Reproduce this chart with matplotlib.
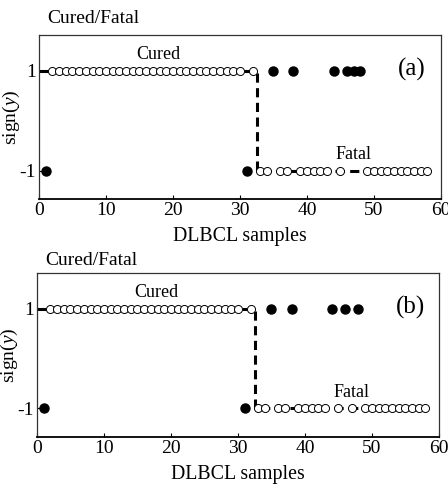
import numpy as np
import matplotlib
matplotlib.use('Agg')
import matplotlib.pyplot as plt

plt.rcParams['font.family'] = ['Liberation Serif', 'DejaVu Serif']
plt.rcParams['mathtext.fontset'] = 'custom'
plt.rcParams['mathtext.it'] = 'Liberation Serif:italic'
plt.rcParams['mathtext.rm'] = 'Liberation Serif'

# DLBCL samples 1..58: 32 cured (+1), 26 fatal (-1)
samples = np.arange(1, 59)
true_label = np.array([1] * 32 + [-1] * 26)

# misclassified samples for each panel
wrong_a = [1, 31, 35, 38, 44, 46, 47, 48]
wrong_b = [1, 31, 35, 38, 44, 46, 48]

panels = ['(a)', '(b)']
wrong_sets = [wrong_a, wrong_b]

x_ticks = [0, 10, 20, 30, 40, 50, 60]
y_ticks = [-1, 1]
y_ticklabels = ['-1', '1']

# axes positions [left, bottom, width, height] in figure fraction
positions = [[0.087, 0.5955, 0.897, 0.3333],
             [0.0826, 0.1118, 0.897, 0.3333]]
title_y = [0.963, 0.47]

fig = plt.figure(figsize=(4.48, 4.92), dpi=100)

for k in range(2):
    ax = fig.add_axes(positions[k])
    wrong = np.isin(samples, wrong_sets[k])
    pred = np.where(wrong, -true_label, true_label)

    # true label as dashed step line
    xs = np.r_[0, samples]
    ys = np.r_[true_label[0], true_label]
    ax.plot(xs, ys, drawstyle='steps-mid', color='black', lw=2.2,
            dashes=(3, 1.8), zorder=1)

    ax.plot(samples[~wrong], pred[~wrong], 'o', ms=5.8, mfc='white',
            mec='black', mew=0.7, ls='none', zorder=2)
    ax.plot(samples[wrong], pred[wrong], 'o', ms=6.5, mfc='black',
            mec='black', ls='none', zorder=3)

    ax.set_xlim(0, 60)
    ax.set_ylim(-1.57, 1.71)
    ax.set_xticks(x_ticks)
    ax.set_yticks(y_ticks)
    ax.set_yticklabels(y_ticklabels)
    ax.tick_params(direction='in', labelsize=14, length=3, width=0.8, pad=2)
    for s in ax.spines.values():
        s.set_linewidth(0.9)
        s.set_color('#333333')
    ax.spines['bottom'].set_color('black')
    ax.spines['bottom'].set_linewidth(1.3)

    ax.set_xlabel('DLBCL samples', fontsize=14.3, labelpad=6)
    ax.set_ylabel(r'sign($y$)', fontsize=14)
    ax.yaxis.set_label_coords(-0.043, 0.5)

    ax.text(17.8, 1.32, 'Cured', fontsize=13, ha='center', va='center')
    ax.text(46.9, -0.68, 'Fatal', fontsize=13, ha='center', va='center')
    ax.text(55.7, 1.02, panels[k], fontsize=18, ha='center', va='center')

    fig.text(positions[k][0] + 0.018, title_y[k], 'Cured/Fatal',
             fontsize=14, ha='left', va='center')

plt.savefig('out.png', dpi=100)
